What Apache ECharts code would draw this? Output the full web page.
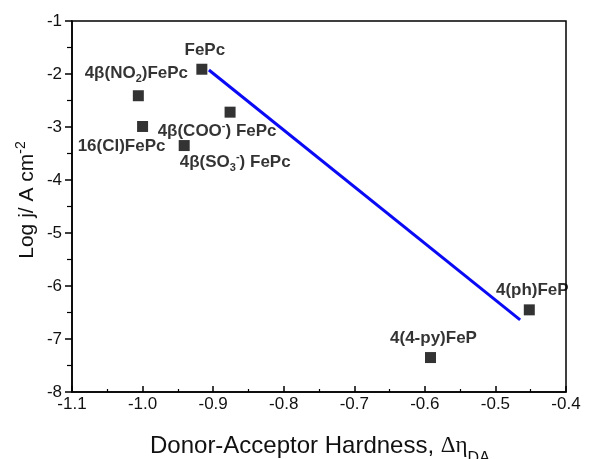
<!DOCTYPE html>
<html>
<head>
<meta charset="utf-8">
<script src="https://cdn.jsdelivr.net/npm/echarts@6/dist/echarts.min.js"></script>
<style>
  html, body { margin: 0; padding: 0; background: #fff; }
  #chart { width: 589px; height: 459px; }
</style>
</head>
<body>
<div id="chart"></div>
<script>
// Catalysts: donor-acceptor hardness vs. log current density
const compoundLabels = [
  'FePc',
  '4β(NO{sub|2})FePc',
  '16(Cl)FePc',
  '4β(COO{sup|-}) FePc',
  '4β(SO{sub|3}{sup|-}) FePc',
  '4(ph)FeP',
  '4(4-py)FeP'
];
const hardness = [-0.916, -1.006, -1.0, -0.876, -0.941, -0.452, -0.592];
const logJ = [-1.91, -2.41, -2.99, -2.72, -3.35, -6.45, -7.35];

// Linear trend line end points
const fitHardness = [-0.906, -0.465];
const fitLogJ = [-1.925, -6.64];

// Axis ranges and ticks
const xMin = -1.1, xMax = -0.4, xStep = 0.1;
const yMin = -8, yMax = -1, yStep = 1;

// Label placement around each marker (pixels, relative to marker centre)
const labelShift = [[3, -19], [-2, -22], [-21, 20], [-13, 19], [51, 17], [3, -20], [3, -19]];

const FONT = 'Liberation Sans, Arial, sans-serif';

const chart = echarts.init(document.getElementById('chart'), null, { renderer: 'canvas' });

const scatterData = hardness.map((x, i) => ({
  value: [x, logJ[i]],
  label: {
    show: true,
    position: 'inside',
    offset: labelShift[i],
    formatter: compoundLabels[i]
  }
}));

const option = {
  backgroundColor: '#ffffff',
  animation: false,
  grid: {
    left: 72, right: 23, top: 21, bottom: 67,
    show: true, borderColor: '#000', borderWidth: 1.5, backgroundColor: 'transparent'
  },
  xAxis: {
    type: 'value', min: xMin, max: xMax, interval: xStep,
    axisLine: { show: true, onZero: false, lineStyle: { color: '#000', width: 1.5 } },
    axisTick: { show: true, inside: true, length: 6, lineStyle: { color: '#000', width: 1.5 } },
    minorTick: { show: true, splitNumber: 2, length: 3, lineStyle: { color: '#000', width: 1.2 } },
    splitLine: { show: false },
    axisLabel: {
      margin: 4, color: '#111', fontFamily: FONT, fontSize: 17,
      formatter: v => v.toFixed(1)
    }
  },
  yAxis: {
    type: 'value', min: yMin, max: yMax, interval: yStep,
    axisLine: { show: true, onZero: false, lineStyle: { color: '#000', width: 1.5 } },
    axisTick: { show: true, inside: false, length: 7, lineStyle: { color: '#000', width: 1.5 } },
    minorTick: { show: true, splitNumber: 2, length: 5, lineStyle: { color: '#000', width: 1.2 } },
    splitLine: { show: false },
    axisLabel: {
      margin: 10, color: '#111', fontFamily: FONT, fontSize: 17,
      formatter: v => String(v)
    }
  },
  series: [
    {
      type: 'line',
      data: fitHardness.map((x, i) => [x, fitLogJ[i]]),
      showSymbol: false,
      symbol: 'none',
      lineStyle: { color: '#0a0af5', width: 3 },
      z: 2
    },
    {
      type: 'scatter',
      data: scatterData,
      symbol: 'rect',
      symbolSize: 11,
      itemStyle: { color: '#000' },
      label: {
        color: '#000', fontFamily: FONT, fontWeight: 'bold', fontSize: 17, lineHeight: 22,
        rich: {
          sub: { fontFamily: FONT, fontWeight: 'bold', fontSize: 11, lineHeight: 22, verticalAlign: 'bottom', color: '#000' },
          sup: { fontFamily: FONT, fontWeight: 'bold', fontSize: 11, lineHeight: 22, verticalAlign: 'top', color: '#000' }
        }
      },
      z: 3
    }
  ],
  graphic: [
    {
      type: 'text',
      left: 150, top: 431,
      style: {
        text: 'Donor-Acceptor Hardness, {g|Δη}{s|DA}',
        fontFamily: FONT, fontSize: 24, fill: '#111', lineHeight: 30,
        rich: {
          g: { fontFamily: 'Liberation Serif, Times New Roman, serif', fontSize: 23, lineHeight: 30, fill: '#111' },
          s: { fontFamily: FONT, fontSize: 16, lineHeight: 30, verticalAlign: 'bottom', fill: '#111', padding: [0, 0, -6, 0] }
        }
      }
    },
    {
      type: 'text',
      x: 27, y: 200,
      rotation: Math.PI / 2,
      style: {
        text: 'Log j/ A cm{s|-2}',
        fontFamily: FONT, fontSize: 21, fill: '#111', lineHeight: 26,
        align: 'center', verticalAlign: 'middle',
        rich: {
          s: { fontFamily: FONT, fontSize: 14, lineHeight: 26, verticalAlign: 'top', fill: '#111' }
        }
      }
    }
  ]
};

chart.setOption(option);
</script>
</body>
</html>
